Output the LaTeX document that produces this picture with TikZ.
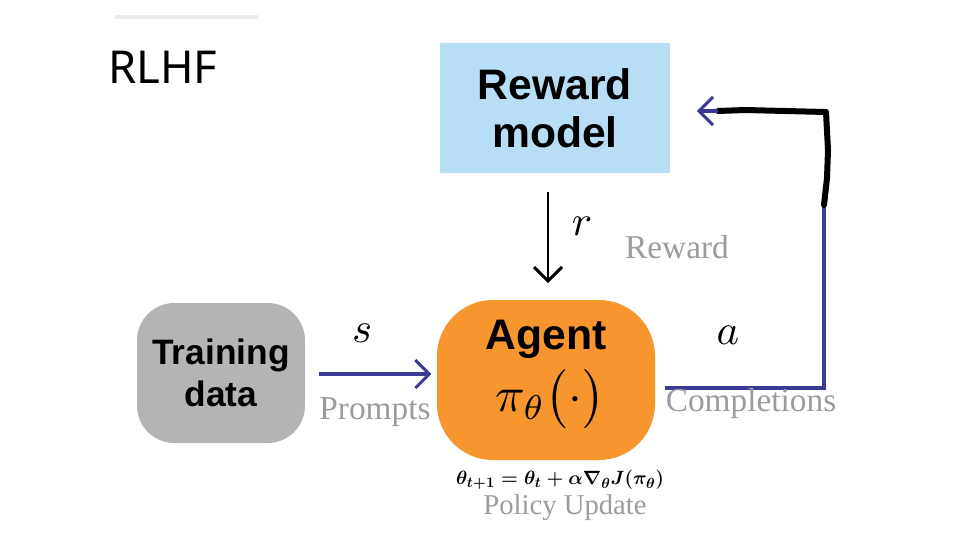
\documentclass[tikz,border=0pt]{standalone}
\usepackage{amsmath}
\usepackage{graphicx}
\usepackage{fontspec}
\usetikzlibrary{arrows.meta}
\newfontfamily\boxfont{Liberation Sans}
\newfontfamily\titlefont{Noto Sans}
\newfontfamily\labfont{Liberation Serif}
\definecolor{rewardblue}{HTML}{B8DEF6}
\definecolor{agentorange}{HTML}{F7962E}
\definecolor{datagray}{HTML}{B4B4B4}
\definecolor{linkblue}{HTML}{3A3A94}
\definecolor{labgray}{HTML}{9C9C9C}
\newcommand{\scaledmath}[2]{\scalebox{#1}{$#2$}}
\tikzset{
  boxtext/.style={font=\boxfont\bfseries, text=black, align=center, inner sep=0pt},
  rewardbox/.style={boxtext, fill=rewardblue, minimum width=172.5pt, minimum height=97.5pt, font=\boxfont\bfseries\fontsize{32}{36}\selectfont},
  agentbox/.style={boxtext, fill=agentorange, rounded corners=42pt, minimum width=163.5pt, minimum height=120pt, font=\boxfont\bfseries\fontsize{32}{46.5}\selectfont},
  databox/.style={boxtext, fill=datagray, rounded corners=28pt, minimum width=126pt, minimum height=105pt, font=\boxfont\bfseries\fontsize{26.5}{31}\selectfont},
  graylabel/.style={font=\labfont\fontsize{25}{27}\selectfont, text=labgray, inner sep=0pt},
  mathlabel/.style={font=\fontsize{10}{12}\selectfont, inner sep=0pt},
  arrowtip/.style={-{Straight Barb[length=10.5pt,width=21pt,line width=2.2pt]}},
  bluelink/.style={draw=linkblue, line width=2.3pt},
  formula/.style={font=\fontsize{15.5}{17}\selectfont, inner sep=0pt},
}
\begin{document}
\begin{tikzpicture}[x=0.75pt,y=-0.75pt]
\useasboundingbox[fill=white] (0,0) rectangle (960,540);
\draw[gray!15, line width=2.5pt] (115,17) -- (258,17);
\node[font=\titlefont\fontsize{34}{36}\selectfont, anchor=west, inner sep=0pt] (title) at (108,67) {RLHF};

\node[rewardbox] (reward) at (555,108) {Reward\\model};
\node[agentbox] (agent) at (546,380) {Agent\\{\fontsize{10}{12}\selectfont\hspace*{6pt}\scaledmath{3.7}{\pi_{\theta}\bigl(\cdot\bigr)}\rule[-21pt]{0pt}{0pt}}};
\node[databox] (data) at (221,373) {Training\\data};

% reward -> agent
\draw[arrowtip, line width=2.2pt, black, shorten <=14pt, shorten >=12.5pt]
  ([xshift=1.5pt]agent.north |- reward.south) -- ([xshift=1.5pt]agent.north);
\node[mathlabel] (rlab) at (582,226) {\scaledmath{3.2}{r}};
\node[graylabel] (rewardlab) at (677,247) {Reward};

% data -> agent
\coordinate (sy) at (0,374);
\draw[bluelink, arrowtip, shorten <=10pt, shorten >=4pt] (data.east |- sy) -- (agent.west |- sy);
\node[mathlabel] (slab) at (362,333) {\scaledmath{3.2}{s}};
\node[graylabel] (promptlab) at (375,412) {Prompts};

% agent -> reward loop
\coordinate (c1) at (824,388);
\coordinate (c2) at (824,205);
\coordinate (c3) at (826,112);
\coordinate (c4) at (718,111);
\draw[bluelink, shorten <=7pt] ([yshift=-6pt]agent.east) -- (c1) -- (c2);
\draw[black, line width=4.5pt, line cap=round, line join=round] (c2) -- (827,178) -- (828,150) -- (c3) -- (745,110) -- (c4);
\draw[bluelink, arrowtip, shorten >=20pt] (c4) -- (reward.east |- c4);
\node[mathlabel] (alab) at (728,335) {\scaledmath{3.2}{a}};
\node[graylabel] (complab) at (751,403) {Completions};

% policy update rule
\node[formula] (rulelab) at (560,480) {$\boldsymbol{\theta_{t+1}=\theta_t+\alpha\nabla_\theta J(\pi_\theta)}$};
\node[graylabel, font=\labfont\fontsize{21.5}{24}\selectfont] (updlab) at (565,508) {Policy Update};
\end{tikzpicture}
\end{document}
